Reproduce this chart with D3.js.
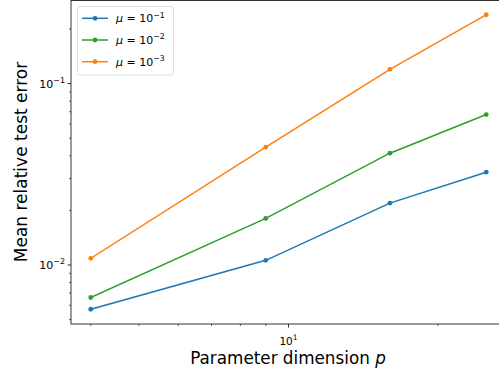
<!DOCTYPE html>
<html>
<head>
<meta charset="utf-8">
<script src="https://cdn.jsdelivr.net/npm/d3@7"></script>
<style>
  html, body { margin: 0; padding: 0; background: #fff; }
  svg { display: block; font-family: "DejaVu Sans", sans-serif; }
</style>
</head>
<body>
<svg id="chart" width="499" height="375"></svg>
<script>
// Parameter dimensions (x) and mean relative test error per regularisation level
const dims = [4, 9, 16, 25];
const errMu1 = [0.00570, 0.01061, 0.02194, 0.0325];
const errMu2 = [0.00662, 0.01807, 0.04134, 0.0675];
const errMu3 = [0.01089, 0.04461, 0.1199, 0.2398];
const seriesExp = ["1", "2", "3"];
const seriesColors = ["#1f77b4", "#2ca02c", "#ff7f0e"];
const xTickMajor = [10];
const xTickMinor = [4, 5, 6, 7, 8, 9, 20, 30];
const yTickMajor = [0.01, 0.1];
const yTickMinor = [0.005, 0.006, 0.007, 0.008, 0.009, 0.02, 0.03, 0.04, 0.05, 0.06, 0.07, 0.08, 0.09, 0.2, 0.3];

const series = [errMu1, errMu2, errMu3].map((vals, i) => ({
  exp: seriesExp[i],
  color: seriesColors[i],
  points: dims.map((d, j) => ({ x: d, y: vals[j] }))
}));

const svg = d3.select("#chart");
const plot = { left: 71, right: 506, top: 0, bottom: 324 };

// log-space padding of 5% around the data
function padLog(lo, hi) {
  const a = Math.log10(lo), b = Math.log10(hi), m = (b - a) * 0.05;
  return [Math.pow(10, a - m), Math.pow(10, b + m)];
}
const allY = errMu1.concat(errMu2, errMu3);
const x = d3.scaleLog().domain(padLog(d3.min(dims), d3.max(dims))).range([plot.left, plot.right]);
const y = d3.scaleLog().domain(padLog(d3.min(allY), d3.max(allY))).range([plot.bottom, plot.top]);

// series lines and markers
const line = d3.line().x(d => x(d.x)).y(d => y(d.y));
const g = svg.append("g");
series.forEach(s => {
  g.append("path").datum(s.points)
    .attr("d", line).attr("fill", "none")
    .attr("stroke", s.color).attr("stroke-width", 1.5)
    .attr("stroke-linecap", "square");
  g.selectAll(null).data(s.points).enter().append("circle")
    .attr("cx", d => x(d.x)).attr("cy", d => y(d.y))
    .attr("r", 2.4).attr("fill", s.color);
});

// frame
svg.append("rect")
  .attr("x", plot.left).attr("y", plot.top + 0.5)
  .attr("width", plot.right - plot.left).attr("height", plot.bottom - plot.top - 0.5)
  .attr("fill", "none").attr("stroke", "#000").attr("stroke-width", 0.8);

// x ticks
const xDom = x.domain();
const inX = v => v >= xDom[0] && v <= xDom[1];
svg.selectAll(null).data(xTickMinor.filter(inX)).enter().append("line")
  .attr("x1", d => x(d)).attr("x2", d => x(d))
  .attr("y1", plot.bottom).attr("y2", plot.bottom + 2)
  .attr("stroke", "#000").attr("stroke-width", 0.6);
svg.selectAll(null).data(xTickMajor.filter(inX)).enter().append("line")
  .attr("x1", d => x(d)).attr("x2", d => x(d))
  .attr("y1", plot.bottom).attr("y2", plot.bottom + 3.5)
  .attr("stroke", "#000").attr("stroke-width", 0.8);

function powLabel(sel, exp, size) {
  sel.append("tspan").text("10");
  sel.append("tspan").attr("dy", -size * 0.42).attr("font-size", size * 0.72).text(exp);
}
xTickMajor.filter(inX).forEach(v => {
  const t = svg.append("text")
    .attr("x", x(v)).attr("y", plot.bottom + 20.5)
    .attr("text-anchor", "middle").attr("font-size", 10.5).attr("fill", "#000");
  powLabel(t, String(Math.round(Math.log10(v))), 10.5);
});

// y ticks
const yDom = y.domain();
const inY = v => v >= yDom[0] && v <= yDom[1];
svg.selectAll(null).data(yTickMinor.filter(inY)).enter().append("line")
  .attr("x1", plot.left - 2).attr("x2", plot.left)
  .attr("y1", d => y(d)).attr("y2", d => y(d))
  .attr("stroke", "#000").attr("stroke-width", 0.6);
svg.selectAll(null).data(yTickMajor.filter(inY)).enter().append("line")
  .attr("x1", plot.left - 3.5).attr("x2", plot.left)
  .attr("y1", d => y(d)).attr("y2", d => y(d))
  .attr("stroke", "#000").attr("stroke-width", 0.8);
yTickMajor.filter(inY).forEach(v => {
  const t = svg.append("text")
    .attr("x", plot.left - 6).attr("y", y(v) + 4)
    .attr("text-anchor", "end").attr("font-size", 11).attr("fill", "#000");
  powLabel(t, "\u2212" + Math.round(-Math.log10(v)), 11);
});

// axis titles
const xl = svg.append("text")
  .attr("x", (plot.left + plot.right) / 2 - 0.5).attr("y", 363.5)
  .attr("text-anchor", "middle").attr("font-size", 16.8).attr("fill", "#000");
xl.append("tspan").text("Parameter dimension ");
xl.append("tspan").attr("font-style", "italic").text("p");

svg.append("text")
  .attr("transform", `translate(26.5,${(plot.top + plot.bottom) / 2}) rotate(-90)`)
  .attr("text-anchor", "middle").attr("font-size", 17).attr("fill", "#000")
  .text("Mean relative test error");

// legend
const lg = svg.append("g");
lg.append("rect")
  .attr("x", 77.5).attr("y", 6.5).attr("width", 96).attr("height", 68.5)
  .attr("rx", 2.5).attr("fill", "#fff").attr("fill-opacity", 0.8)
  .attr("stroke", "#d6d6d6").attr("stroke-width", 0.8);
series.forEach((s, i) => {
  const yy = 18.3 + i * 21.7;
  lg.append("line").attr("x1", 82).attr("x2", 108).attr("y1", yy).attr("y2", yy)
    .attr("stroke", s.color).attr("stroke-width", 1.5);
  lg.append("circle").attr("cx", 95).attr("cy", yy).attr("r", 2.4).attr("fill", s.color);
  const t = lg.append("text").attr("x", 116).attr("y", yy + 4)
    .attr("font-size", 11).attr("fill", "#000");
  t.append("tspan").attr("font-style", "italic").text("\u03bc");
  t.append("tspan").text(" = 10");
  t.append("tspan").attr("dy", -4.6).attr("font-size", 7.9).text("\u2212" + s.exp);
});
</script>
</body>
</html>
